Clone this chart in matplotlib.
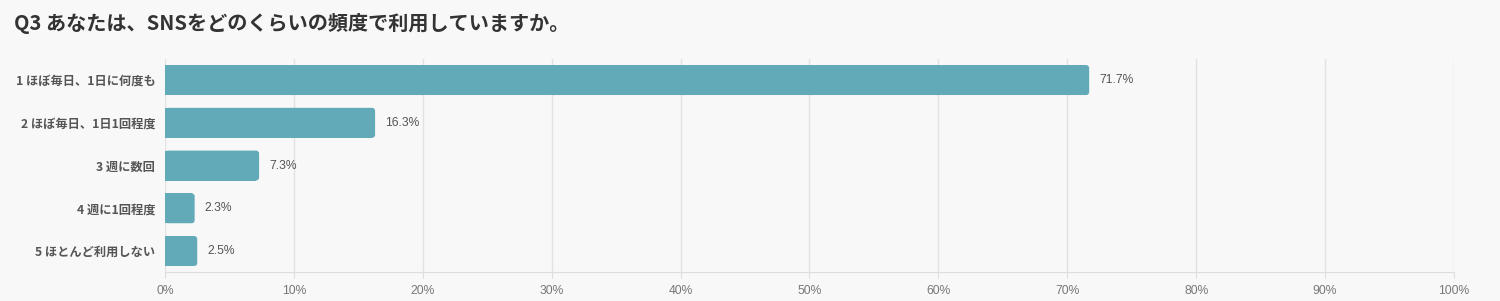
import matplotlib.pyplot as plt
from matplotlib.patches import FancyBboxPatch

# --- Data ---
title = "Q3 あなたは、SNSをどのくらいの頻度で利用していますか。"
categories = ["1 ほぼ毎日、1日に何度も", "2 ほぼ毎日、1日1回程度", "3 週に数回",
              "4 週に1回程度", "5 ほとんど利用しない"]
values = [71.7, 16.3, 7.3, 2.3, 2.5]
xticks = [0, 10, 20, 30, 40, 50, 60, 70, 80, 90, 100]

plt.rcParams['font.family'] = ['Noto Sans CJK JP', 'DejaVu Sans']

bg = '#f8f8f8'
bar_color = '#63aab9'

fig = plt.figure(figsize=(15, 3.01), dpi=100, facecolor=bg)
ax = fig.add_axes([0.11, 0.095, 0.8593, 0.71], facecolor=bg)

ax.set_xlim(0, 100)
ax.set_ylim(len(categories) - 0.5, -0.5)

# px -> data conversion for rounded corners
px_x = 100 / (0.8593 * 1500)
px_y = len(categories) / (0.71 * 301)
r = 3 * px_x
aspect = px_y / px_x
h = 0.70

for i, v in enumerate(values):
    # square left part + rounded full bar
    ax.barh(i, v - r, height=h, color=bar_color, zorder=3, linewidth=0)
    ax.add_patch(FancyBboxPatch((0, i - h / 2), v, h,
                                boxstyle=f"round,pad=0,rounding_size={r}",
                                mutation_aspect=aspect, facecolor=bar_color,
                                edgecolor='none', zorder=3))
    ax.text(v + 10 * px_x, i, f"{v}%", va='center', ha='left', fontsize=8.7,
            color='#555555', family=['Liberation Sans', 'DejaVu Sans'], zorder=4)

ax.set_yticks(range(len(categories)))
ax.set_yticklabels(categories, fontsize=8.8, fontweight='bold', color='#555555')
ax.set_xticks(xticks)
ax.set_xticklabels([f"{t}%" for t in xticks], fontsize=8.7, color='#777777',
                   family=['Liberation Sans', 'DejaVu Sans'])
ax.tick_params(axis='y', length=0, pad=7)
ax.tick_params(axis='x', length=4, color='#dddddd', pad=5)

ax.grid(axis='x', color='#e2e2e2', linewidth=1, zorder=0)
for s in ['top', 'right', 'left']:
    ax.spines[s].set_visible(False)
ax.spines['bottom'].set_color('#dddddd')

fig.text(14 / 1500, 1 - 24 / 301, title, fontsize=14.5, fontweight='bold',
         color='#333333', va='center', ha='left')

fig.savefig('out.png', dpi=100, facecolor=bg)
